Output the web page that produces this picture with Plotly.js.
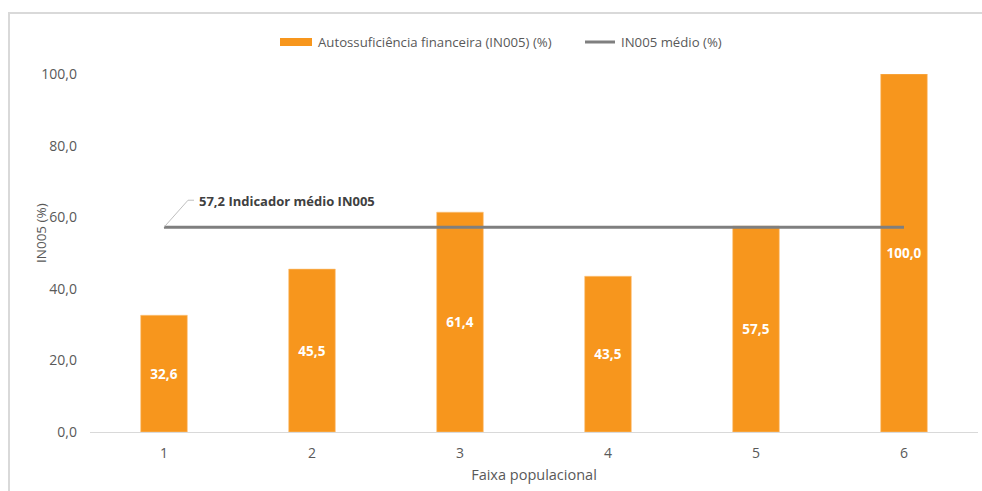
<!DOCTYPE html>
<html>
<head>
<meta charset="utf-8">
<script src="https://cdn.plot.ly/plotly-3.0.1.min.js"></script>
<style>
  html, body { margin: 0; padding: 0; background: #ffffff; }
  #wrap { position: relative; width: 982px; height: 491px; overflow: hidden; }
  #frame { position: absolute; left: 8px; top: 12px; width: 1000px; height: 520px;
           border: 2px solid #d9d9d9; box-sizing: border-box; }
  #chart { position: absolute; left: 0; top: 0; width: 982px; height: 491px; }
</style>
</head>
<body>
<div id="wrap">
  <div id="frame"></div>
  <div id="chart"></div>
</div>
<script>
// Faixas populacionais e indicador IN005 por faixa
const faixas = [1, 2, 3, 4, 5, 6];
const in005 = [32.6, 45.5, 61.4, 43.5, 57.5, 100.0];
const mediaIN005 = 57.2;
const yTicks = [0, 20, 40, 60, 80, 100];

const nomeBarras = 'Autossuficiência financeira (IN005) (%)';
const nomeLinha = 'IN005 médio (%)';

const serieMedia = faixas.map(() => mediaIN005);

const fonte = '"Open Sans", "Liberation Sans", sans-serif';
const cinza = '#595959';
const laranja = '#f7961d';
const cinzaLinha = '#7f7f7f';

// margens da área de plotagem (px)
const M = { l: 90, r: 4, t: 74, b: 59 };
const W = 982, H = 491;
const pw = W - M.l - M.r, ph = H - M.t - M.b;
// conversão de pixels da página para coordenadas "paper"
const px = v => (v - M.l) / pw;
const py = v => (H - M.b - v) / ph;

const barras = {
  type: 'bar',
  name: nomeBarras,
  x: faixas,
  y: in005,
  width: 0.315,
  marker: { color: laranja, line: { color: '#fbc27d', width: 0.6 } },
  texttemplate: '<b>%{y:.1f}</b>',
  textposition: 'inside',
  insidetextanchor: 'middle',
  textangle: 0,
  textfont: { family: fonte, size: 13.5, color: '#ffffff' },
  hoverinfo: 'skip'
};

const linha = {
  type: 'scatter',
  mode: 'lines',
  name: nomeLinha,
  x: faixas,
  y: serieMedia,
  line: { color: cinzaLinha, width: 3 },
  hoverinfo: 'skip'
};

// legenda desenhada: amostra larga para as barras, traço para a linha
const legY = 42;
const shapesLegenda = [
  { type: 'rect', xref: 'paper', yref: 'paper',
    x0: px(280), x1: px(312), y0: py(legY - 4), y1: py(legY + 4),
    fillcolor: laranja, line: { width: 0 } },
  { type: 'line', xref: 'paper', yref: 'paper',
    x0: px(585), x1: px(615), y0: py(legY), y1: py(legY),
    line: { color: cinzaLinha, width: 3 } }
];
const textosLegenda = [
  { x: px(316), y: py(legY), text: nomeBarras },
  { x: px(619), y: py(legY), text: nomeLinha }
].map(a => Object.assign(a, {
  xref: 'paper', yref: 'paper', xanchor: 'left', yanchor: 'middle',
  showarrow: false, font: { family: fonte, size: 13.2, color: cinza }
}));

const layout = {
  width: W,
  height: H,
  paper_bgcolor: 'rgba(0,0,0,0)',
  plot_bgcolor: 'rgba(0,0,0,0)',
  margin: M,
  separators: ',.',
  font: { family: fonte, color: cinza, size: 12 },
  showlegend: false,
  xaxis: {
    type: 'linear',
    range: [0.5, 6.5],
    tickvals: faixas,
    ticktext: faixas.map(String),
    showgrid: false,
    zeroline: false,
    showline: true,
    linecolor: '#d9d9d9',
    linewidth: 1,
    ticks: '',
    ticklen: 0,
    ticklabelstandoff: 8,
    tickfont: { family: fonte, size: 14, color: cinza },
    title: { text: 'Faixa populacional', font: { family: fonte, size: 14.5, color: cinza }, standoff: 9 }
  },
  yaxis: {
    range: [0, 100],
    tickvals: yTicks,
    tickformat: '.1f',
    showgrid: false,
    zeroline: false,
    showline: false,
    ticks: '',
    ticklabelstandoff: 12,
    tickfont: { family: fonte, size: 14, color: cinza },
    title: { text: '' }
  },
  shapes: shapesLegenda.concat([
    {
      // linha de chamada do rótulo da média
      type: 'path',
      xref: 'x', yref: 'y',
      xsizemode: 'pixel', ysizemode: 'pixel',
      xanchor: faixas[0], yanchor: mediaIN005,
      path: 'M0,0 L24,27 L30,27',
      line: { color: '#bfbfbf', width: 1 }
    }
  ]),
  annotations: textosLegenda.concat([
    {
      x: faixas[0], y: mediaIN005, xref: 'x', yref: 'y',
      xanchor: 'left', yanchor: 'middle',
      xshift: 33, yshift: 26,
      showarrow: false,
      text: '<b>' + mediaIN005.toFixed(1).replace('.', ',') + ' Indicador médio IN005</b>',
      font: { family: fonte, size: 13, color: '#404040' }
    },
    {
      // título do eixo Y
      x: 0, xref: 'paper', xanchor: 'center', xshift: -49,
      y: py(233), yref: 'paper', yanchor: 'middle',
      textangle: -90,
      showarrow: false,
      text: 'IN005 (%)',
      font: { family: fonte, size: 13.5, color: cinza }
    }
  ])
};

Plotly.newPlot('chart', [barras, linha], layout, { displayModeBar: false, staticPlot: true });
</script>
</body>
</html>
